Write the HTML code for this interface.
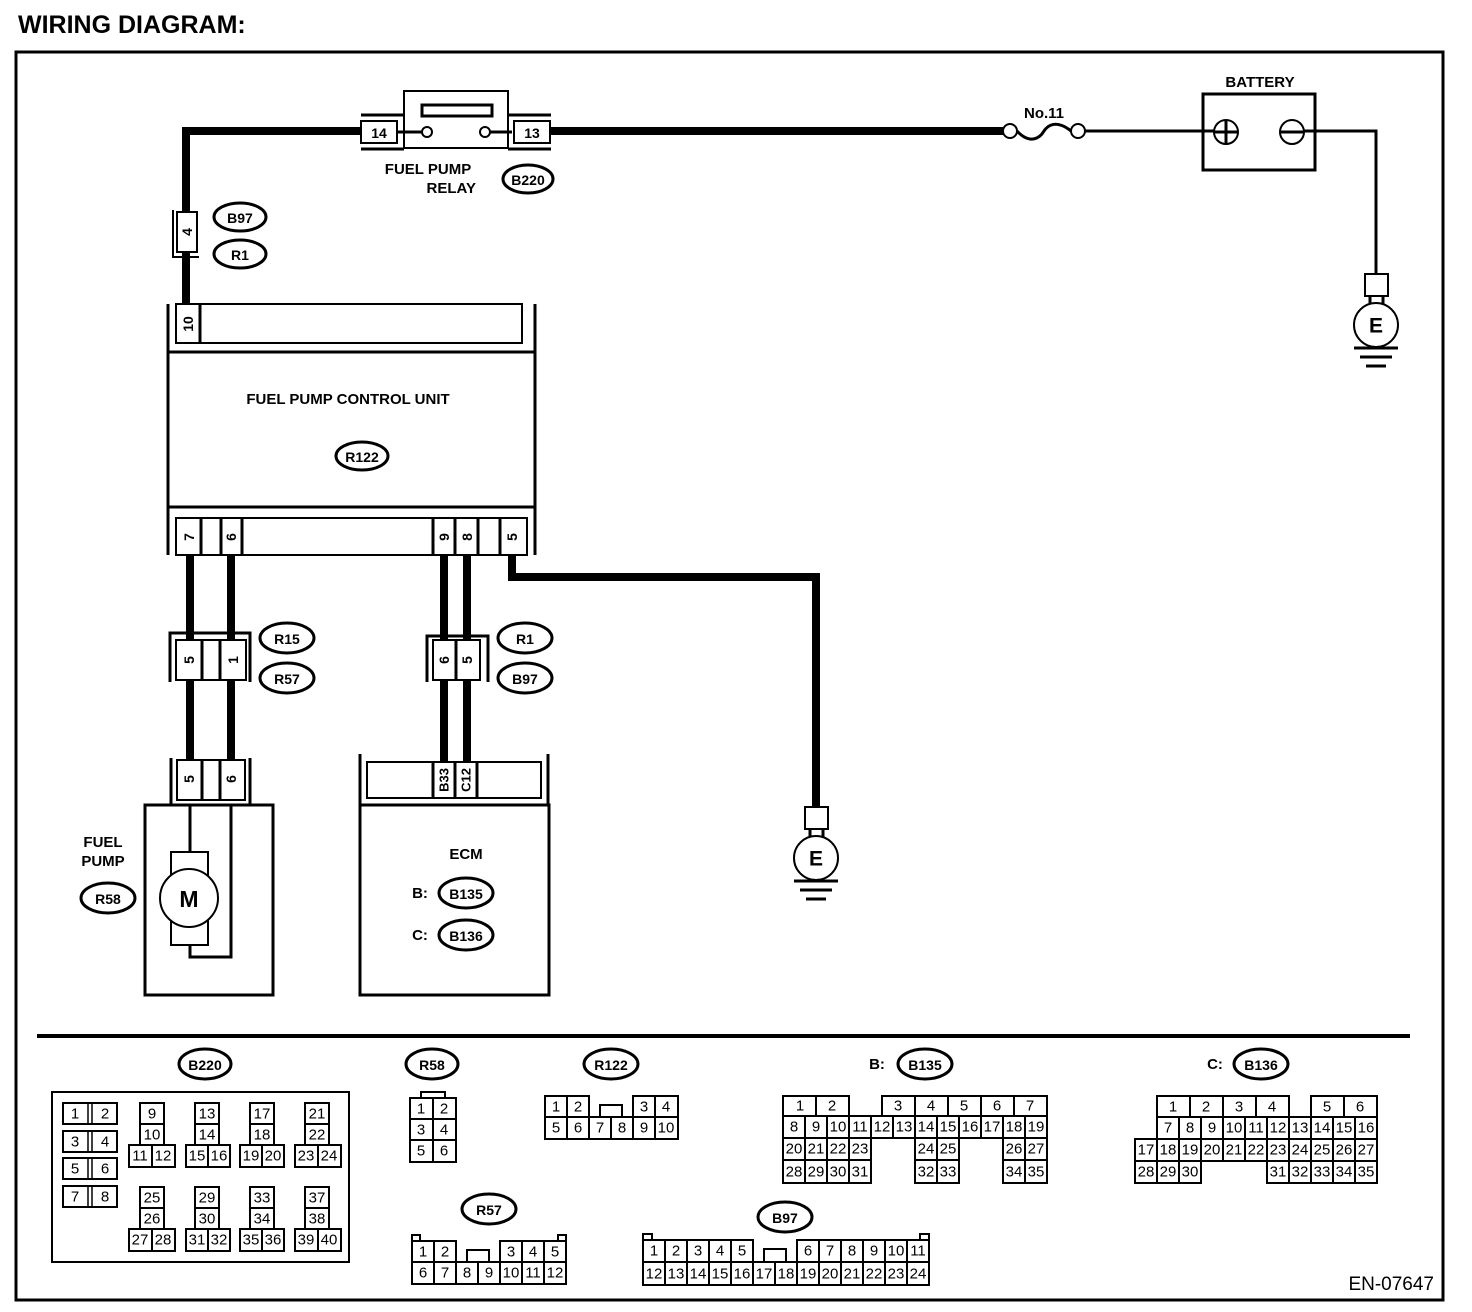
<!DOCTYPE html>
<html><head><meta charset="utf-8"><style>
html,body{margin:0;padding:0;background:#fff;}
svg{display:block;}
text{font-family:"Liberation Sans",sans-serif;fill:#000;}
.b{font-weight:bold;font-size:15px;}
.c{fill:#fff;stroke:#000;stroke-width:2;}
.t{font-size:15px;text-anchor:middle;dominant-baseline:central;}
.p{font-size:14px;font-weight:bold;text-anchor:middle;dominant-baseline:central;}
.e{fill:#fff;stroke:#000;stroke-width:3;}
</style></head><body>
<svg width="1472" height="1312" viewBox="0 0 1472 1312" xmlns="http://www.w3.org/2000/svg">
<text x="18" y="33" style="font-size:25px;font-weight:900;">WIRING DIAGRAM:</text>
<rect x="16" y="52" width="1427" height="1248" fill="none" stroke="#000" stroke-width="3"/>

<g fill="none" stroke="#000" stroke-width="8">
<path d="M360 131 H186 V305"/>
<path d="M550 131 H1003"/>
<path d="M190 555 V640 M190 680 V760 M231 555 V640 M231 680 V760"/>
<path d="M444 555 V640 M444 680 V763 M467 555 V640 M467 680 V763"/>
<path d="M512 555 V577 H816 V806"/>
</g>
<g fill="none" stroke="#000" stroke-width="3">
<path d="M1085 131 H1214"/>
<path d="M1304 131 H1376 V273"/>
</g>

<rect x="404" y="91" width="104" height="57" class="c" stroke-width="3"/>
<rect x="422" y="105" width="70" height="11" fill="none" stroke="#000" stroke-width="3"/>
<line x1="398" y1="132" x2="422" y2="132" stroke="#000" stroke-width="3"/>
<line x1="490" y1="132" x2="512" y2="132" stroke="#000" stroke-width="3"/>
<circle cx="427" cy="132" r="5" class="c" stroke-width="3"/>
<circle cx="485" cy="132" r="5" class="c" stroke-width="3"/>
<path d="M361 115 H404 M361 149 H404 M508 115 H551 M508 149 H551" stroke="#000" stroke-width="3"/>
<rect x="361" y="121" width="36" height="22" class="c" stroke-width="3"/>
<text x="379" y="133" class="p">14</text>
<rect x="514" y="121" width="36" height="22" class="c" stroke-width="3"/>
<text x="532" y="133" class="p">13</text>
<text x="428" y="174" class="b" text-anchor="middle">FUEL PUMP</text>
<text x="476" y="193" class="b" text-anchor="end">RELAY</text>
<ellipse cx="528" cy="179" rx="25" ry="14" class="e"/><text x="528" y="180" class="p">B220</text>

<text x="1044" y="118" class="b" text-anchor="middle">No.11</text>
<circle cx="1010" cy="131" r="7" class="c" stroke-width="3"/>
<circle cx="1078" cy="131" r="7" class="c" stroke-width="3"/>
<path d="M1017 131 C1030 145 1040 138 1044 131 C1050 122 1060 122 1071 131" fill="none" stroke="#000" stroke-width="3"/>

<text x="1260" y="87" class="b" text-anchor="middle">BATTERY</text>
<rect x="1203" y="94" width="112" height="76" fill="none" stroke="#000" stroke-width="3"/>
<circle cx="1226" cy="132" r="12" class="c" stroke-width="3"/>
<path d="M1214 132 H1238 M1226 120 V144" stroke="#000" stroke-width="3"/>
<circle cx="1292" cy="132" r="12" class="c" stroke-width="3"/>
<path d="M1280 132 H1304" stroke="#000" stroke-width="3"/>

<rect x="1365" y="274" width="23" height="22" class="c" stroke-width="3"/>
<path d="M1370 296 V304 M1383 296 V304" stroke="#000" stroke-width="3"/>
<circle cx="1376" cy="325" r="22" class="c" stroke-width="3"/>
<text x="1376" y="326" class="p" style="font-size:21px">E</text>
<path d="M1354 348 H1398 M1360 357 H1392 M1366 366 H1386" stroke="#000" stroke-width="3"/>

<path d="M173 210 V257 H199" fill="none" stroke="#000" stroke-width="2"/>
<rect x="177" y="212" width="20" height="40" class="c" stroke-width="3"/>
<text class="p" transform="translate(187 232) rotate(-90)">4</text>
<ellipse cx="240" cy="217" rx="26" ry="14" class="e"/><text x="240" y="218" class="p">B97</text>
<ellipse cx="240" cy="254" rx="26" ry="14" class="e"/><text x="240" y="255" class="p">R1</text>

<path d="M168 304 V555 M535 304 V555" stroke="#000" stroke-width="3"/>
<rect x="176" y="304" width="346" height="39" class="c" stroke-width="3"/>
<line x1="200" y1="304" x2="200" y2="343" stroke="#000" stroke-width="3"/>
<text class="p" transform="translate(188 324) rotate(-90)">10</text>
<path d="M168 352 H535 M168 507 H535" stroke="#000" stroke-width="3"/>
<text x="348" y="404" class="b" text-anchor="middle">FUEL PUMP CONTROL UNIT</text>
<ellipse cx="362" cy="456" rx="26" ry="14" class="e"/><text x="362" y="457" class="p">R122</text>
<rect x="176" y="518" width="351" height="37" class="c" stroke-width="3"/>
<path d="M201 518 V555 M221 518 V555 M242 518 V555 M433 518 V555 M455 518 V555 M478 518 V555 M500 518 V555" stroke="#000" stroke-width="3"/>
<text class="p" transform="translate(189 537) rotate(-90)">7</text>
<text class="p" transform="translate(231 537) rotate(-90)">6</text>
<text class="p" transform="translate(444 537) rotate(-90)">9</text>
<text class="p" transform="translate(467 537) rotate(-90)">8</text>
<text class="p" transform="translate(512 537) rotate(-90)">5</text>

<path d="M170 682 V633 H250 V682" fill="none" stroke="#000" stroke-width="3"/>
<rect x="176" y="640" width="70" height="40" class="c" stroke-width="3"/>
<path d="M202 640 V680 M220 640 V680" stroke="#000" stroke-width="3"/>
<text class="p" transform="translate(189 660) rotate(-90)">5</text>
<text class="p" transform="translate(233 660) rotate(-90)">1</text>
<ellipse cx="287" cy="638" rx="27" ry="15" class="e"/><text x="287" y="639" class="p">R15</text>
<ellipse cx="287" cy="678" rx="27" ry="15" class="e"/><text x="287" y="679" class="p">R57</text>

<path d="M427 682 V636 H488 V682" fill="none" stroke="#000" stroke-width="3"/>
<rect x="433" y="640" width="47" height="40" class="c" stroke-width="3"/>
<path d="M456 640 V680" stroke="#000" stroke-width="3"/>
<text class="p" transform="translate(444 660) rotate(-90)">6</text>
<text class="p" transform="translate(467 660) rotate(-90)">5</text>
<ellipse cx="525" cy="638" rx="27" ry="15" class="e"/><text x="525" y="639" class="p">R1</text>
<ellipse cx="525" cy="678" rx="27" ry="15" class="e"/><text x="525" y="679" class="p">B97</text>

<path d="M171 805 V758 M250 805 V758" stroke="#000" stroke-width="3"/>
<rect x="177" y="760" width="68" height="40" class="c" stroke-width="3"/>
<path d="M202 760 V800 M220 760 V800" stroke="#000" stroke-width="3"/>
<text class="p" transform="translate(189 779) rotate(-90)">5</text>
<text class="p" transform="translate(231 779) rotate(-90)">6</text>
<rect x="145" y="805" width="128" height="190" fill="none" stroke="#000" stroke-width="3"/>
<path d="M190 805 V852 M231 805 V957 H190 V945" fill="none" stroke="#000" stroke-width="3"/>
<rect x="171" y="852" width="37" height="93" class="c" stroke-width="3"/>
<circle cx="189" cy="898" r="29" class="c" stroke-width="3"/>
<text x="189" y="899" class="p" style="font-size:23px">M</text>
<text x="103" y="847" class="b" text-anchor="middle">FUEL</text>
<text x="103" y="866" class="b" text-anchor="middle">PUMP</text>
<ellipse cx="108" cy="898" rx="27" ry="15" class="e"/><text x="108" y="899" class="p">R58</text>

<path d="M360 805 V754 M548 805 V754" stroke="#000" stroke-width="3"/>
<rect x="367" y="762" width="174" height="36" class="c" stroke-width="3"/>
<path d="M433 762 V798 M455 762 V798 M477 762 V798" stroke="#000" stroke-width="3"/>
<text class="p" transform="translate(444 780) rotate(-90)" style="font-size:13px">B33</text>
<text class="p" transform="translate(466 780) rotate(-90)" style="font-size:13px">C12</text>
<rect x="360" y="805" width="189" height="190" fill="none" stroke="#000" stroke-width="3"/>
<text x="466" y="859" class="b" text-anchor="middle">ECM</text>
<text x="420" y="898" class="b" text-anchor="middle">B:</text>
<ellipse cx="466" cy="893" rx="27" ry="15" class="e"/><text x="466" y="894" class="p">B135</text>
<text x="420" y="940" class="b" text-anchor="middle">C:</text>
<ellipse cx="466" cy="935" rx="27" ry="15" class="e"/><text x="466" y="936" class="p">B136</text>

<rect x="805" y="807" width="23" height="22" class="c" stroke-width="3"/>
<path d="M810 829 V837 M823 829 V837" stroke="#000" stroke-width="3"/>
<circle cx="816" cy="858" r="22" class="c" stroke-width="3"/>
<text x="816" y="859" class="p" style="font-size:21px">E</text>
<path d="M794 881 H838 M800 890 H832 M806 899 H826" stroke="#000" stroke-width="3"/>

<line x1="37" y1="1036" x2="1410" y2="1036" stroke="#000" stroke-width="4"/>

<ellipse cx="205" cy="1064" rx="26" ry="15" class="e"/><text x="205" y="1065" class="p">B220</text>
<rect x="52" y="1092" width="297" height="170" fill="none" stroke="#000" stroke-width="2"/>
<g class="c">
<rect x="63" y="1103" width="54" height="21"/><rect x="63" y="1131" width="54" height="21"/><rect x="63" y="1158" width="54" height="21"/><rect x="63" y="1186" width="54" height="21"/>
</g>
<path d="M88 1103 V1124 M88 1131 V1152 M88 1158 V1179 M88 1186 V1207 M92 1103 V1124 M92 1131 V1152 M92 1158 V1179 M92 1186 V1207" stroke="#000" stroke-width="1.5"/>
<g class="t">
<text x="75" y="1114">1</text><text x="105" y="1114">2</text>
<text x="75" y="1142">3</text><text x="105" y="1142">4</text>
<text x="75" y="1169">5</text><text x="105" y="1169">6</text>
<text x="75" y="1197">7</text><text x="105" y="1197">8</text>
</g>
<g class="c">
<rect x="140" y="1103" width="24" height="21"/><rect x="140" y="1124" width="24" height="21"/><rect x="129" y="1145" width="23" height="22"/><rect x="152" y="1145" width="23" height="22"/>
<rect x="195" y="1103" width="24" height="21"/><rect x="195" y="1124" width="24" height="21"/><rect x="186" y="1145" width="22" height="22"/><rect x="208" y="1145" width="22" height="22"/>
<rect x="250" y="1103" width="24" height="21"/><rect x="250" y="1124" width="24" height="21"/><rect x="240" y="1145" width="22" height="22"/><rect x="262" y="1145" width="22" height="22"/>
<rect x="305" y="1103" width="24" height="21"/><rect x="305" y="1124" width="24" height="21"/><rect x="295" y="1145" width="23" height="22"/><rect x="318" y="1145" width="23" height="22"/>
<rect x="140" y="1187" width="24" height="21"/><rect x="140" y="1208" width="24" height="21"/><rect x="129" y="1229" width="23" height="22"/><rect x="152" y="1229" width="23" height="22"/>
<rect x="195" y="1187" width="24" height="21"/><rect x="195" y="1208" width="24" height="21"/><rect x="186" y="1229" width="22" height="22"/><rect x="208" y="1229" width="22" height="22"/>
<rect x="250" y="1187" width="24" height="21"/><rect x="250" y="1208" width="24" height="21"/><rect x="240" y="1229" width="22" height="22"/><rect x="262" y="1229" width="22" height="22"/>
<rect x="305" y="1187" width="24" height="21"/><rect x="305" y="1208" width="24" height="21"/><rect x="295" y="1229" width="23" height="22"/><rect x="318" y="1229" width="23" height="22"/>
</g>
<g class="t">
<text x="152" y="1114">9</text><text x="152" y="1135">10</text><text x="140" y="1156">11</text><text x="163" y="1156">12</text>
<text x="207" y="1114">13</text><text x="207" y="1135">14</text><text x="197" y="1156">15</text><text x="219" y="1156">16</text>
<text x="262" y="1114">17</text><text x="262" y="1135">18</text><text x="251" y="1156">19</text><text x="273" y="1156">20</text>
<text x="317" y="1114">21</text><text x="317" y="1135">22</text><text x="306" y="1156">23</text><text x="329" y="1156">24</text>
<text x="152" y="1198">25</text><text x="152" y="1219">26</text><text x="140" y="1240">27</text><text x="163" y="1240">28</text>
<text x="207" y="1198">29</text><text x="207" y="1219">30</text><text x="197" y="1240">31</text><text x="219" y="1240">32</text>
<text x="262" y="1198">33</text><text x="262" y="1219">34</text><text x="251" y="1240">35</text><text x="273" y="1240">36</text>
<text x="317" y="1198">37</text><text x="317" y="1219">38</text><text x="306" y="1240">39</text><text x="329" y="1240">40</text>
</g>

<ellipse cx="432" cy="1064" rx="26" ry="15" class="e"/><text x="432" y="1065" class="p">R58</text>
<rect x="421" y="1092" width="24" height="7" class="c"/>
<g class="c">
<rect x="410" y="1098" width="23" height="21"/><rect x="433" y="1098" width="23" height="21"/>
<rect x="410" y="1119" width="23" height="21"/><rect x="433" y="1119" width="23" height="21"/>
<rect x="410" y="1140" width="23" height="22"/><rect x="433" y="1140" width="23" height="22"/>
</g>
<g class="t">
<text x="421" y="1109">1</text><text x="444" y="1109">2</text>
<text x="421" y="1130">3</text><text x="444" y="1130">4</text>
<text x="421" y="1151">5</text><text x="444" y="1151">6</text>
</g>

<ellipse cx="611" cy="1064" rx="27" ry="15" class="e"/><text x="611" y="1065" class="p">R122</text>
<g class="c">
<rect x="545" y="1096" width="22" height="21"/><rect x="567" y="1096" width="22" height="21"/>
<rect x="600" y="1105" width="22" height="12"/>
<rect x="633" y="1096" width="22" height="21"/><rect x="655" y="1096" width="23" height="21"/>
<rect x="545" y="1117" width="22" height="22"/><rect x="567" y="1117" width="22" height="22"/><rect x="589" y="1117" width="22" height="22"/><rect x="611" y="1117" width="22" height="22"/><rect x="633" y="1117" width="22" height="22"/><rect x="655" y="1117" width="23" height="22"/>
</g>
<g class="t">
<text x="556" y="1107">1</text><text x="578" y="1107">2</text><text x="644" y="1107">3</text><text x="666" y="1107">4</text>
<text x="556" y="1128">5</text><text x="578" y="1128">6</text><text x="600" y="1128">7</text><text x="622" y="1128">8</text><text x="644" y="1128">9</text><text x="666" y="1128">10</text>
</g>

<ellipse cx="489" cy="1209" rx="27" ry="15" class="e"/><text x="489" y="1210" class="p">R57</text>
<g class="c">
<rect x="412" y="1235" width="8" height="6"/><rect x="558" y="1235" width="8" height="6"/>
<rect x="412" y="1241" width="22" height="21"/><rect x="434" y="1241" width="22" height="21"/>
<rect x="467" y="1250" width="22" height="12"/>
<rect x="500" y="1241" width="22" height="21"/><rect x="522" y="1241" width="22" height="21"/><rect x="544" y="1241" width="22" height="21"/>
<rect x="412" y="1262" width="22" height="22"/><rect x="434" y="1262" width="22" height="22"/><rect x="456" y="1262" width="22" height="22"/><rect x="478" y="1262" width="22" height="22"/><rect x="500" y="1262" width="22" height="22"/><rect x="522" y="1262" width="22" height="22"/><rect x="544" y="1262" width="22" height="22"/>
</g>
<g class="t">
<text x="423" y="1252">1</text><text x="445" y="1252">2</text><text x="511" y="1252">3</text><text x="533" y="1252">4</text><text x="555" y="1252">5</text>
<text x="423" y="1273">6</text><text x="445" y="1273">7</text><text x="467" y="1273">8</text><text x="489" y="1273">9</text><text x="511" y="1273">10</text><text x="533" y="1273">11</text><text x="555" y="1273">12</text>
</g>

<ellipse cx="785" cy="1217" rx="27" ry="15" class="e"/><text x="785" y="1218" class="p">B97</text>
<g class="c">
<rect x="643" y="1234" width="9" height="6"/><rect x="920" y="1234" width="9" height="6"/>
<rect x="643" y="1240" width="22" height="22"/><rect x="665" y="1240" width="22" height="22"/><rect x="687" y="1240" width="22" height="22"/><rect x="709" y="1240" width="22" height="22"/><rect x="731" y="1240" width="22" height="22"/>
<rect x="764" y="1249" width="22" height="13"/>
<rect x="797" y="1240" width="22" height="22"/><rect x="819" y="1240" width="22" height="22"/><rect x="841" y="1240" width="22" height="22"/><rect x="863" y="1240" width="22" height="22"/><rect x="885" y="1240" width="22" height="22"/><rect x="907" y="1240" width="22" height="22"/>
<rect x="643" y="1262" width="22" height="23"/><rect x="665" y="1262" width="22" height="23"/><rect x="687" y="1262" width="22" height="23"/><rect x="709" y="1262" width="22" height="23"/><rect x="731" y="1262" width="22" height="23"/><rect x="753" y="1262" width="22" height="23"/><rect x="775" y="1262" width="22" height="23"/><rect x="797" y="1262" width="22" height="23"/><rect x="819" y="1262" width="22" height="23"/><rect x="841" y="1262" width="22" height="23"/><rect x="863" y="1262" width="22" height="23"/><rect x="885" y="1262" width="22" height="23"/><rect x="907" y="1262" width="22" height="23"/>
</g>
<g class="t">
<text x="654" y="1251">1</text><text x="676" y="1251">2</text><text x="698" y="1251">3</text><text x="720" y="1251">4</text><text x="742" y="1251">5</text>
<text x="808" y="1251">6</text><text x="830" y="1251">7</text><text x="852" y="1251">8</text><text x="874" y="1251">9</text><text x="896" y="1251">10</text><text x="918" y="1251">11</text>
<text x="654" y="1274">12</text><text x="676" y="1274">13</text><text x="698" y="1274">14</text><text x="720" y="1274">15</text><text x="742" y="1274">16</text><text x="764" y="1274">17</text><text x="786" y="1274">18</text><text x="808" y="1274">19</text><text x="830" y="1274">20</text><text x="852" y="1274">21</text><text x="874" y="1274">22</text><text x="896" y="1274">23</text><text x="918" y="1274">24</text>
</g>

<text x="877" y="1069" class="b" text-anchor="middle">B:</text>
<ellipse cx="925" cy="1064" rx="27" ry="15" class="e"/><text x="925" y="1065" class="p">B135</text>
<g class="c">
<rect x="783" y="1096" width="33" height="20"/><rect x="816" y="1096" width="33" height="20"/>
<rect x="882" y="1096" width="33" height="20"/><rect x="915" y="1096" width="33" height="20"/><rect x="948" y="1096" width="33" height="20"/><rect x="981" y="1096" width="33" height="20"/><rect x="1014" y="1096" width="33" height="20"/>
<rect x="783" y="1116" width="22" height="22"/><rect x="805" y="1116" width="22" height="22"/><rect x="827" y="1116" width="22" height="22"/><rect x="849" y="1116" width="22" height="22"/><rect x="871" y="1116" width="22" height="22"/><rect x="893" y="1116" width="22" height="22"/><rect x="915" y="1116" width="22" height="22"/><rect x="937" y="1116" width="22" height="22"/><rect x="959" y="1116" width="22" height="22"/><rect x="981" y="1116" width="22" height="22"/><rect x="1003" y="1116" width="22" height="22"/><rect x="1025" y="1116" width="22" height="22"/>
<rect x="783" y="1138" width="22" height="22"/><rect x="805" y="1138" width="22" height="22"/><rect x="827" y="1138" width="22" height="22"/><rect x="849" y="1138" width="22" height="22"/><rect x="915" y="1138" width="22" height="22"/><rect x="937" y="1138" width="22" height="22"/><rect x="1003" y="1138" width="22" height="22"/><rect x="1025" y="1138" width="22" height="22"/>
<rect x="783" y="1160" width="22" height="23"/><rect x="805" y="1160" width="22" height="23"/><rect x="827" y="1160" width="22" height="23"/><rect x="849" y="1160" width="22" height="23"/><rect x="915" y="1160" width="22" height="23"/><rect x="937" y="1160" width="22" height="23"/><rect x="1003" y="1160" width="22" height="23"/><rect x="1025" y="1160" width="22" height="23"/>
</g>
<g class="t">
<text x="800" y="1106">1</text><text x="832" y="1106">2</text><text x="898" y="1106">3</text><text x="931" y="1106">4</text><text x="964" y="1106">5</text><text x="997" y="1106">6</text><text x="1030" y="1106">7</text>
<text x="794" y="1127">8</text><text x="816" y="1127">9</text><text x="838" y="1127">10</text><text x="860" y="1127">11</text><text x="882" y="1127">12</text><text x="904" y="1127">13</text><text x="926" y="1127">14</text><text x="948" y="1127">15</text><text x="970" y="1127">16</text><text x="992" y="1127">17</text><text x="1014" y="1127">18</text><text x="1036" y="1127">19</text>
<text x="794" y="1149">20</text><text x="816" y="1149">21</text><text x="838" y="1149">22</text><text x="860" y="1149">23</text><text x="926" y="1149">24</text><text x="948" y="1149">25</text><text x="1014" y="1149">26</text><text x="1036" y="1149">27</text>
<text x="794" y="1172">28</text><text x="816" y="1172">29</text><text x="838" y="1172">30</text><text x="860" y="1172">31</text><text x="926" y="1172">32</text><text x="948" y="1172">33</text><text x="1014" y="1172">34</text><text x="1036" y="1172">35</text>
</g>

<text x="1215" y="1069" class="b" text-anchor="middle">C:</text>
<ellipse cx="1261" cy="1064" rx="27" ry="15" class="e"/><text x="1261" y="1065" class="p">B136</text>
<g class="c">
<rect x="1157" y="1096" width="33" height="21"/><rect x="1190" y="1096" width="33" height="21"/><rect x="1223" y="1096" width="33" height="21"/><rect x="1256" y="1096" width="33" height="21"/>
<rect x="1311" y="1096" width="33" height="21"/><rect x="1344" y="1096" width="33" height="21"/>
<rect x="1157" y="1117" width="22" height="22"/><rect x="1179" y="1117" width="22" height="22"/><rect x="1201" y="1117" width="22" height="22"/><rect x="1223" y="1117" width="22" height="22"/><rect x="1245" y="1117" width="22" height="22"/><rect x="1267" y="1117" width="22" height="22"/><rect x="1289" y="1117" width="22" height="22"/><rect x="1311" y="1117" width="22" height="22"/><rect x="1333" y="1117" width="22" height="22"/><rect x="1355" y="1117" width="22" height="22"/>
<rect x="1135" y="1139" width="22" height="22"/><rect x="1157" y="1139" width="22" height="22"/><rect x="1179" y="1139" width="22" height="22"/><rect x="1201" y="1139" width="22" height="22"/><rect x="1223" y="1139" width="22" height="22"/><rect x="1245" y="1139" width="22" height="22"/><rect x="1267" y="1139" width="22" height="22"/><rect x="1289" y="1139" width="22" height="22"/><rect x="1311" y="1139" width="22" height="22"/><rect x="1333" y="1139" width="22" height="22"/><rect x="1355" y="1139" width="22" height="22"/>
<rect x="1135" y="1161" width="22" height="22"/><rect x="1157" y="1161" width="22" height="22"/><rect x="1179" y="1161" width="22" height="22"/>
<rect x="1267" y="1161" width="22" height="22"/><rect x="1289" y="1161" width="22" height="22"/><rect x="1311" y="1161" width="22" height="22"/><rect x="1333" y="1161" width="22" height="22"/><rect x="1355" y="1161" width="22" height="22"/>
</g>
<g class="t">
<text x="1173" y="1107">1</text><text x="1206" y="1107">2</text><text x="1239" y="1107">3</text><text x="1272" y="1107">4</text><text x="1327" y="1107">5</text><text x="1360" y="1107">6</text>
<text x="1168" y="1128">7</text><text x="1190" y="1128">8</text><text x="1212" y="1128">9</text><text x="1234" y="1128">10</text><text x="1256" y="1128">11</text><text x="1278" y="1128">12</text><text x="1300" y="1128">13</text><text x="1322" y="1128">14</text><text x="1344" y="1128">15</text><text x="1366" y="1128">16</text>
<text x="1146" y="1150">17</text><text x="1168" y="1150">18</text><text x="1190" y="1150">19</text><text x="1212" y="1150">20</text><text x="1234" y="1150">21</text><text x="1256" y="1150">22</text><text x="1278" y="1150">23</text><text x="1300" y="1150">24</text><text x="1322" y="1150">25</text><text x="1344" y="1150">26</text><text x="1366" y="1150">27</text>
<text x="1146" y="1172">28</text><text x="1168" y="1172">29</text><text x="1190" y="1172">30</text>
<text x="1278" y="1172">31</text><text x="1300" y="1172">32</text><text x="1322" y="1172">33</text><text x="1344" y="1172">34</text><text x="1366" y="1172">35</text>
</g>

<text x="1434" y="1290" text-anchor="end" style="font-size:19px">EN-07647</text>
</svg>
</body></html>
